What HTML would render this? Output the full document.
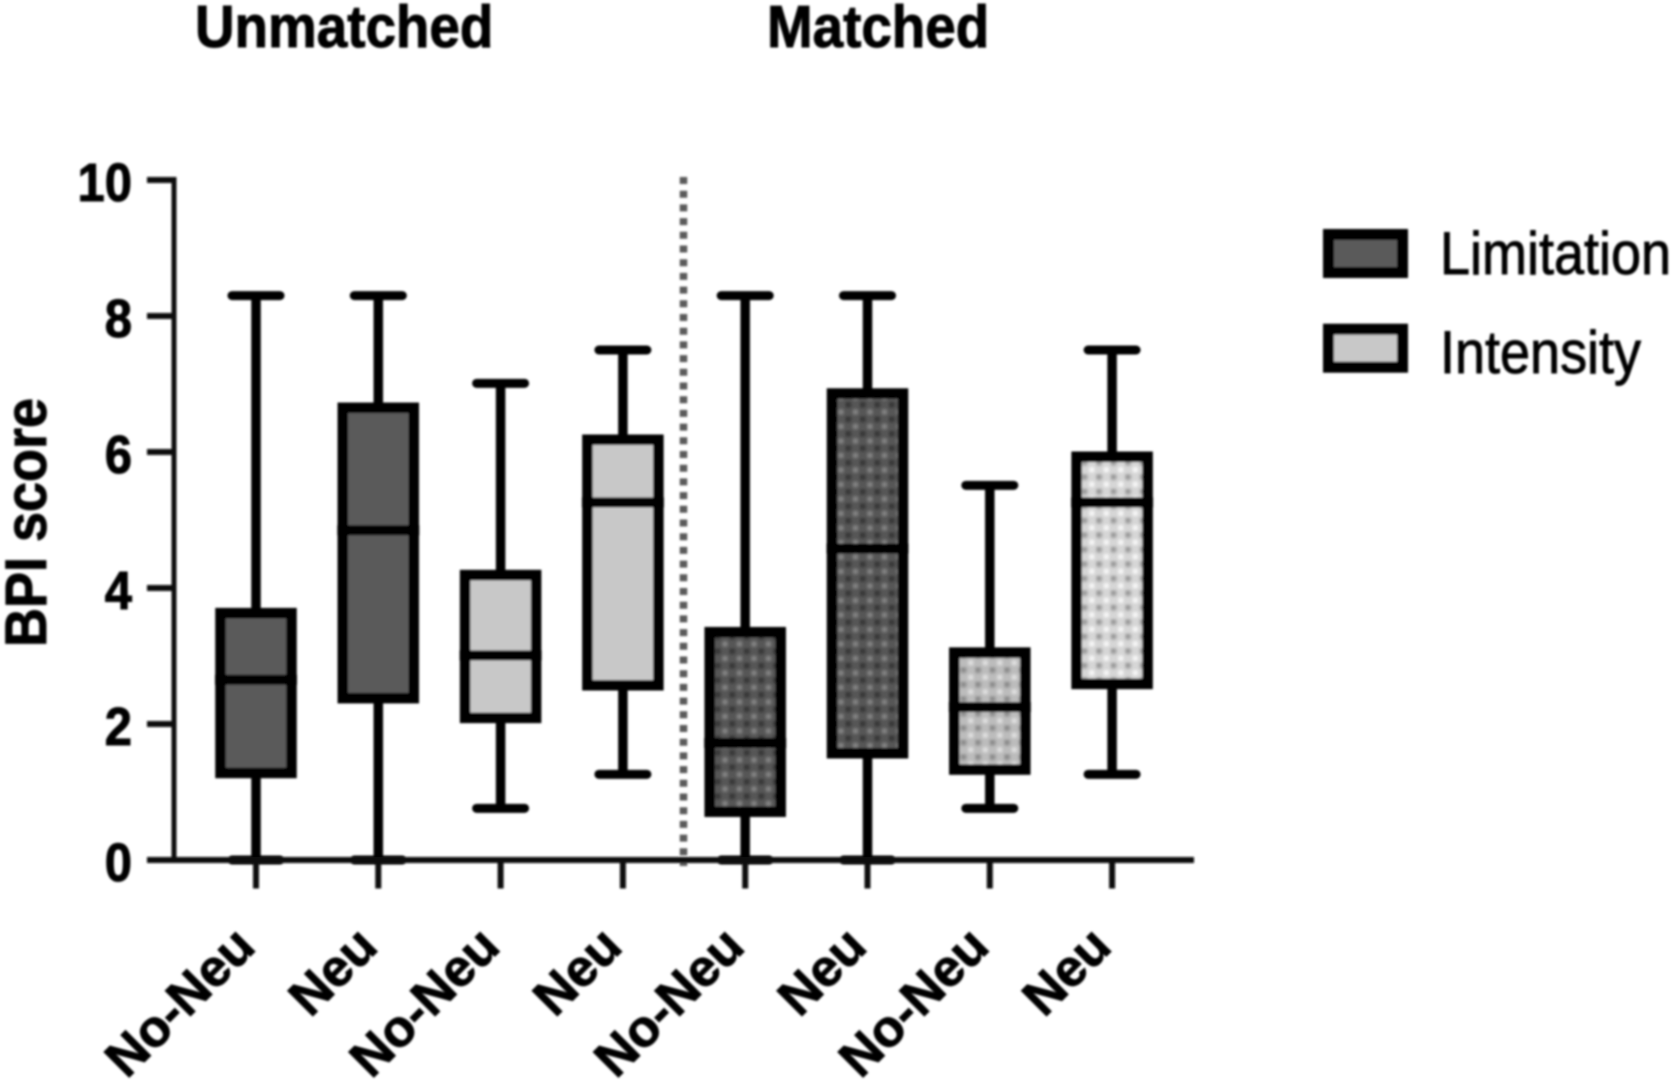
<!DOCTYPE html>
<html>
<head>
<meta charset="utf-8">
<title>BPI score box plot</title>
<style>
html,body{margin:0;padding:0;background:#fff;width:1675px;height:1080px;overflow:hidden}
svg{display:block}
text{font-family:"Liberation Sans",sans-serif;fill:#000}
.bold{font-weight:700;stroke:#000;stroke-width:0.9px}
</style>
</head>
<body>
<svg id="chart" xmlns="http://www.w3.org/2000/svg" width="1675" height="1080" viewBox="0 0 1675 1080">
  <defs>
    <filter id="soft" x="-5%" y="-5%" width="110%" height="110%"><feGaussianBlur stdDeviation="1"/></filter>
    <radialGradient id="dd"><stop offset="0" stop-color="#2e2e2e"/><stop offset="1" stop-color="#2e2e2e" stop-opacity="0"/></radialGradient>
    <radialGradient id="dl"><stop offset="0" stop-color="#8e8e8e"/><stop offset="1" stop-color="#8e8e8e" stop-opacity="0"/></radialGradient>
    <radialGradient id="md"><stop offset="0" stop-color="#808080"/><stop offset="1" stop-color="#808080" stop-opacity="0"/></radialGradient>
    <radialGradient id="ml"><stop offset="0" stop-color="#e8e8e8"/><stop offset="1" stop-color="#e8e8e8" stop-opacity="0"/></radialGradient>
    <radialGradient id="ld"><stop offset="0" stop-color="#8c8c8c"/><stop offset="1" stop-color="#8c8c8c" stop-opacity="0"/></radialGradient>
    <radialGradient id="ll"><stop offset="0" stop-color="#ffffff"/><stop offset="1" stop-color="#ffffff" stop-opacity="0"/></radialGradient>
    <pattern id="dot-dark" patternUnits="userSpaceOnUse" x="859.1" y="604.1" width="14.5" height="14.5">
      <rect width="14.5" height="14.5" fill="#565656"/>
      <circle cx="3.6" cy="3.6" r="5" fill="url(#dd)"/>
      <circle cx="10.9" cy="10.9" r="4.5" fill="url(#dl)"/>
    </pattern>
    <pattern id="dot-mid" patternUnits="userSpaceOnUse" x="974.4" y="724.4" width="14.5" height="14.5">
      <rect width="14.5" height="14.5" fill="#bcbcbc"/>
      <circle cx="3.6" cy="3.6" r="5" fill="url(#md)"/>
      <circle cx="10.9" cy="10.9" r="4.5" fill="url(#ml)"/>
    </pattern>
    <pattern id="dot-light" patternUnits="userSpaceOnUse" x="1095.4" y="531.4" width="14.5" height="14.5">
      <rect width="14.5" height="14.5" fill="#d6d6d6"/>
      <circle cx="3.6" cy="3.6" r="5" fill="url(#ld)"/>
      <circle cx="10.9" cy="10.9" r="4.5" fill="url(#ll)"/>
    </pattern>
  </defs>
  <g id="root" filter="url(#soft)"></g>
</svg>
<script>
const categories = ["No-Neu","Neu","No-Neu","Neu","No-Neu","Neu","No-Neu","Neu"];
const measures = ["Limitation","Limitation","Intensity","Intensity","Limitation","Limitation","Intensity","Intensity"];
const groupNames = ["Unmatched","Unmatched","Unmatched","Unmatched","Matched","Matched","Matched","Matched"];
const whiskerLow = [0,0,0.76,1.26,0,0,0.76,1.26];
const q1 = [1.28,2.38,2.09,2.57,0.71,1.57,1.33,2.59];
const median = [2.65,4.85,3.01,5.26,1.72,4.58,2.25,5.26];
const q3 = [3.63,6.65,4.19,6.18,3.35,6.86,3.05,5.93];
const whiskerHigh = [8.3,8.3,7.01,7.5,8.3,8.3,5.51,7.5];
const yTicks = [0,2,4,6,8,10];
const legendLabels = ["Limitation","Intensity"];
const panelTitles = ["Unmatched","Matched"];
const yAxisLabel = "BPI score";

const xScale = i => 256 + 122.3 * i;
const yScale = v => 860 - 68 * v;
const NS = "http://www.w3.org/2000/svg";
const root = document.getElementById("root");

function make(tag, attrs, parent) {
  const el = document.createElementNS(NS, tag);
  for (const k in attrs) el.setAttribute(k, attrs[k]);
  (parent || root).appendChild(el);
  return el;
}
function fillFor(i) {
  const lim = measures[i] === "Limitation";
  if (groupNames[i] === "Unmatched") return lim ? "#5a5a5a" : "#c8c8c8";
  if (lim) return "url(#dot-dark)";
  return i === 6 ? "url(#dot-mid)" : "url(#dot-light)";
}

/* y axis */
const yLine = make("line", {x1:174, x2:174, y1:yScale(10)-3, y2:yScale(0), stroke:"#111", "stroke-width":5});


yTicks.forEach(t => {
  const tick = make("line", {x1:147, x2:176, y1:yScale(t), y2:yScale(t), stroke:"#111", "stroke-width":6});
  
  
  const label = make("text", {"text-anchor":"end", "class":"bold", "font-size":49,
    transform:`translate(132,${yScale(t)+21}) scale(1,1.1)`});
  label.textContent = String(t);
  
  
});

/* y title */
const yTitle = make("text", {"class":"bold", "font-size":54, transform:"translate(46,647) rotate(-90) scale(1,1.08)"});
yTitle.textContent = yAxisLabel;



/* separator */
const sep = make("line", {x1:683.5, x2:683.5, y1:yScale(10)-3, y2:yScale(0)+6, stroke:"#5a5a5a", "stroke-width":7.5, "stroke-dasharray":"7 6.7"});



/* panel titles */
const titleX = [195, 767];
panelTitles.forEach((t, i) => {
  const title = make("text", {"class":"bold", "font-size":54.8, transform:`translate(${titleX[i]},47) scale(1,1.08)`});
  title.textContent = t;
  
  
});

/* boxes */
categories.forEach((cat, i) => {
  const x = xScale(i);
  const g = make("g", {});
  
  
  const w = make("line", {x1:x, x2:x, y1:yScale(whiskerHigh[i]), y2:yScale(whiskerLow[i]), stroke:"#000", "stroke-width":9.5}, g);
  
  
  [whiskerHigh[i], whiskerLow[i]].forEach(v => {
    const cap = make("line", {x1:x-24, x2:x+24, y1:yScale(v), y2:yScale(v), stroke:"#000", "stroke-width":9, "stroke-linecap":"round"}, g);
    
    
  });
  const box = make("rect", {x:x-35.5, width:71, y:yScale(q3[i]), height:yScale(q1[i])-yScale(q3[i]), fill:fillFor(i), stroke:"#000", "stroke-width":10.5}, g);
  
  
  const med = make("line", {x1:x-41, x2:x+41, y1:yScale(median[i]), y2:yScale(median[i]), stroke:"#000", "stroke-width":10}, g);
  
  
  const xt = make("line", {x1:x, x2:x, y1:yScale(0), y2:888.5, stroke:"#111", "stroke-width":6});
  
  
  const lab = make("text", {"class":"bold", "text-anchor":"end", "font-size":52,
    transform:`translate(${x+1.5},949) rotate(-45)`});
  lab.textContent = cat;
  
  
});

/* x axis */
const xLine = make("line", {x1:147, x2:1194, y1:yScale(0), y2:yScale(0), stroke:"#111", "stroke-width":6});



/* legend */
const legendFill = ["#5a5a5a", "#c8c8c8"];
const legendTop = [234.5, 329.2];
const legendBase = [274, 373];
legendLabels.forEach((t, i) => {
  const g = make("g", {});
  
  
  const sw = make("rect", {x:1328.5, y:legendTop[i], width:74, height:38, fill:legendFill[i], stroke:"#000", "stroke-width":11}, g);
  
  
  const lt = make("text", {"font-size":54, stroke:"#000", "stroke-width":0.8, transform:`translate(1440,${legendBase[i]}) scale(1,1.11)`}, g);
  lt.textContent = t;
  
  
});
</script>
</body>
</html>
